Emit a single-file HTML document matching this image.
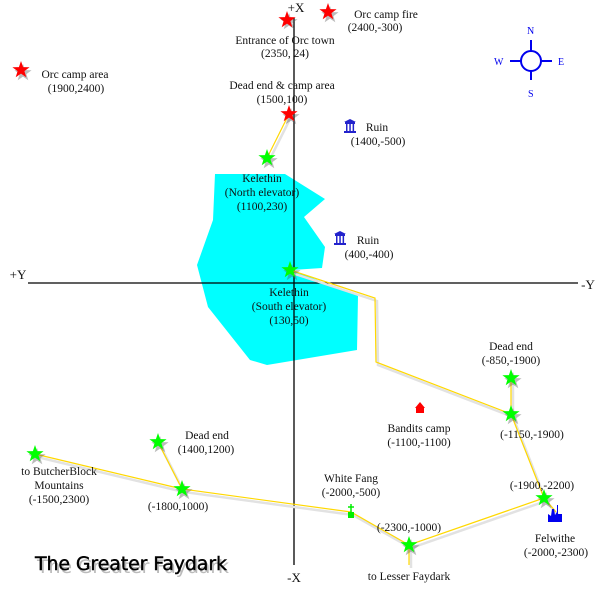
<!DOCTYPE html>
<html><head><style>
body{margin:0;background:#fff}
svg text{font-family:"Liberation Serif",serif;font-size:11.5px;fill:#111}
</style></head><body>
<svg width="600" height="600" viewBox="0 0 600 600" xmlns="http://www.w3.org/2000/svg">
<defs>
<polygon id="st" points="0,-9 2.1,-2.9 8.6,-2.8 3.4,1.1 5.3,7.3 0,3.6 -5.3,7.3 -3.4,1.1 -8.6,-2.8 -2.1,-2.9"/>
</defs>
<polygon fill="#00ffff" points="215,174 285,174 325,199 304,217 325,247 322,268 292,270 358,296 357,350 267,365 250,360 208,307 197,265 213,220"/>
<g stroke="#000" stroke-width="1.3">
<line x1="294" y1="18" x2="294" y2="565"/>
<line x1="28" y1="283" x2="578" y2="283"/>
</g>
<g fill="none" stroke="#e2e2e2" stroke-width="2.5" transform="translate(2,3)">
<polyline points="267,158 289,114"/>
<polyline points="290,270 375,298 376,362 511,414 511,378"/>
<polyline points="511,414 544,498 556,512"/>
<polyline points="544,498 409,545 351,512 182,489 158,442"/>
<polyline points="182,489 35,454"/>
<polyline points="409,545 409,565"/>
</g>
<g fill="none" stroke="#ffd800" stroke-width="1.2">
<polyline points="267,158 289,114"/>
<polyline points="290,270 375,298 376,362 511,414 511,378"/>
<polyline points="511,414 544,498 556,512"/>
<polyline points="544,498 409,545 351,512 182,489 158,442"/>
<polyline points="182,489 35,454"/>
<polyline points="409,545 409,565"/>
</g>
<g fill="#555" opacity="0.4">
<use href="#st" x="289" y="22"/><use href="#st" x="330" y="15"/><use href="#st" x="23" y="73"/><use href="#st" x="291" y="117"/>
<use href="#st" x="269" y="161"/><use href="#st" x="292" y="273"/><use href="#st" x="513" y="381"/><use href="#st" x="513" y="417"/><use href="#st" x="546" y="501"/><use href="#st" x="411" y="548"/><use href="#st" x="184" y="492"/><use href="#st" x="160" y="445"/><use href="#st" x="37" y="457"/>
</g>
<g fill="#ff0000">
<use href="#st" x="287" y="20"/><use href="#st" x="328" y="12"/><use href="#st" x="21" y="70"/><use href="#st" x="289" y="114"/>
</g>
<g fill="#00ff00">
<use href="#st" x="267" y="158"/><use href="#st" x="290" y="270"/><use href="#st" x="511" y="378"/><use href="#st" x="511" y="414"/><use href="#st" x="544" y="498"/><use href="#st" x="409" y="545"/><use href="#st" x="182" y="489"/><use href="#st" x="158" y="442"/><use href="#st" x="35" y="454"/>
</g>
<rect x="348" y="512" width="6" height="6" fill="#00ee00"/><line x1="351" y1="504" x2="351" y2="512" stroke="#00ee00" stroke-width="1.5"/><line x1="348" y1="507" x2="354" y2="507" stroke="#00ee00" stroke-width="1.5"/>
<g fill="#2222cc">
<rect x="345" y="122" width="10" height="2"/><rect x="344" y="131" width="12" height="2"/><path d="M344,122 L350,119 L356,122Z"/><rect x="346" y="124" width="1.5" height="7"/><rect x="349.3" y="124" width="1.5" height="7"/><rect x="352.6" y="124" width="1.5" height="7"/>
<rect x="335" y="234" width="10" height="2"/><rect x="334" y="243" width="12" height="2"/><path d="M334,234 L340,231 L346,234Z"/><rect x="336" y="236" width="1.5" height="7"/><rect x="339.3" y="236" width="1.5" height="7"/><rect x="342.6" y="236" width="1.5" height="7"/>
</g>
<path d="M415,408 L420,402 L425,408 L424,408 L424,413 L416,413 L416,408Z" fill="#ff0000"/>
<path d="M548,522 L548,514 L551,516 L552,509 L554,509 L555,515 L557,512 L557,505 L558,505 L558,514 L562,514 L562,522Z" fill="#0000ee"/>
<g stroke="#0000ee" fill="none" stroke-width="2">
<circle cx="531" cy="61" r="10"/>
<line x1="531" y1="40" x2="531" y2="51"/><line x1="531" y1="71" x2="531" y2="80"/>
<line x1="510" y1="61" x2="521" y2="61"/><line x1="541" y1="61" x2="552" y2="61"/>
</g>
<text x="527" y="34" style="fill:#0000ee;font-size:10px">N</text>
<text x="494" y="65" style="fill:#0000ee;font-size:10px">W</text>
<text x="558" y="65" style="fill:#0000ee;font-size:10px">E</text>
<text x="528" y="97" style="fill:#0000ee;font-size:10px">S</text>
<g text-anchor="middle">
<text x="296" y="12" style="font-size:13px">+X</text>
<text x="294" y="582" style="font-size:13px">-X</text>
<text x="18" y="279" style="font-size:13px">+Y</text>
<text x="588" y="289" style="font-size:13px">-Y</text>
<text x="386" y="18">Orc camp fire</text><text x="375" y="31">(2400,-300)</text>
<text x="285" y="44">Entrance of Orc town</text><text x="285" y="57">(2350, 24)</text>
<text x="75" y="78">Orc camp area</text><text x="76" y="92">(1900,2400)</text>
<text x="282" y="89">Dead end &amp; camp area</text><text x="282" y="103">(1500,100)</text>
<text x="377" y="131">Ruin</text><text x="378" y="145">(1400,-500)</text>
<text x="262" y="182">Kelethin</text><text x="262" y="196">(North elevator)</text><text x="262" y="210">(1100,230)</text>
<text x="368" y="244">Ruin</text><text x="369" y="258">(400,-400)</text>
<text x="289" y="296">Kelethin</text><text x="289" y="310">(South elevator)</text><text x="289" y="324">(130,50)</text>
<text x="511" y="350">Dead end</text><text x="511" y="364">(-850,-1900)</text>
<text x="419" y="432">Bandits camp</text><text x="419" y="446">(-1100,-1100)</text>
<text x="532" y="438">(-1150,-1900)</text>
<text x="207" y="439">Dead end</text><text x="206" y="453">(1400,1200)</text>
<text x="351" y="482">White Fang</text><text x="351" y="496">(-2000,-500)</text>
<text x="542" y="489">(-1900,-2200)</text>
<text x="409" y="531">(-2300,-1000)</text>
<text x="555" y="542">Felwithe</text><text x="556" y="556">(-2000,-2300)</text>
<text x="409" y="580">to Lesser Faydark</text>
<text x="59" y="475">to ButcherBlock</text><text x="59" y="489">Mountains</text><text x="59" y="503">(-1500,2300)</text>
<text x="178" y="510">(-1800,1000)</text>
</g>
<text x="35" y="570" style="font-family:'DejaVu Sans',sans-serif;font-size:19px;fill:#bbb" transform="translate(2,3)" textLength="192">The Greater Faydark</text>
<text x="35" y="570" style="font-family:'DejaVu Sans',sans-serif;font-size:19px;fill:#000;stroke:#000;stroke-width:0.4" textLength="192">The Greater Faydark</text>
</svg>
</body></html>
